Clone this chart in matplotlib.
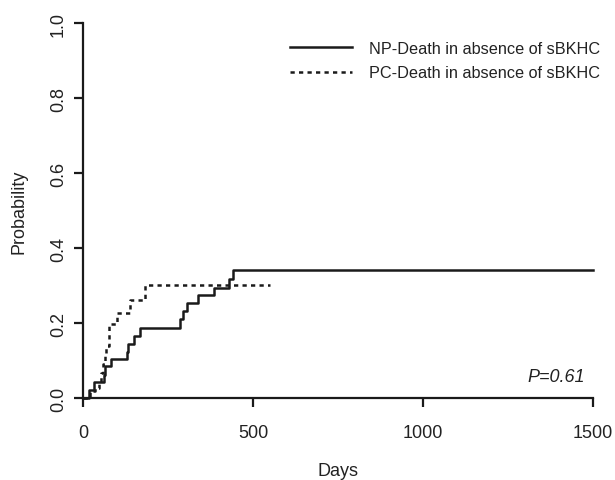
import matplotlib
matplotlib.use("Agg")
import matplotlib.pyplot as plt

# cumulative incidence, step curves (days, probability after event)
np_days = [0, 18, 33, 61, 64, 83, 128, 133, 149, 167, 286, 295, 305, 338, 385, 429, 441, 1500]
np_prob = [0, 0.021, 0.042, 0.063, 0.085, 0.104, 0.124, 0.145, 0.165, 0.188,
           0.210, 0.232, 0.253, 0.274, 0.295, 0.318, 0.341, 0.341]

pc_days = [0, 20, 34, 47, 54, 59, 64, 69, 77, 100, 138, 183, 549]
pc_prob = [0, 0.018, 0.028, 0.040, 0.068, 0.091, 0.120, 0.140, 0.199, 0.228, 0.262, 0.302, 0.302]

labels = ["NP-Death in absence of sBKHC", "PC-Death in absence of sBKHC"]
x_ticks = [0, 500, 1000, 1500]
y_ticks = [0.0, 0.2, 0.4, 0.6, 0.8, 1.0]

plt.rcParams['font.family'] = ['Liberation Sans', 'DejaVu Sans']
ink = '#1a1a1a'
txt = '#222222'

fig = plt.figure(figsize=(6.15, 4.81), dpi=100)
ax = fig.add_axes([0.135, 0.170, 0.829, 0.780])

ax.plot(np_days, np_prob, drawstyle='steps-post', color=ink, lw=1.8,
        label=labels[0], clip_on=False)
ax.plot(pc_days, pc_prob, drawstyle='steps-post', color=ink, lw=1.8,
        linestyle=(0, (1.7, 1.7)), label=labels[1], clip_on=False)

ax.set_xlim(0, 1500)
ax.set_ylim(0, 1)
ax.set_xticks(x_ticks)
ax.set_yticks(y_ticks)
ax.set_yticklabels([f'{v:.1f}' for v in y_ticks], rotation=90, va='center')

for side in ['top', 'right']:
    ax.spines[side].set_visible(False)
for side in ['left', 'bottom']:
    ax.spines[side].set_linewidth(1.6)
    ax.spines[side].set_color(ink)

ax.tick_params(axis='both', length=6.5, width=1.6, color=ink,
               labelsize=13, labelcolor=txt)
ax.tick_params(axis='x', pad=12)
ax.tick_params(axis='y', pad=5)

ax.set_xlabel('Days', fontsize=13, color=txt, labelpad=15)
ax.set_ylabel('Probability', fontsize=13, color=txt, labelpad=16)

ax.text(0.985, 0.058, 'P=0.61', transform=ax.transAxes, ha='right', va='center',
        fontsize=13, style='italic', color=txt)

ax.legend(loc='upper right', bbox_to_anchor=(1.015, 0.952), frameon=False,
          fontsize=11.7, handlelength=3.8, handletextpad=1.1, labelspacing=0.57,
          borderpad=0, borderaxespad=0, labelcolor=txt)

fig.savefig('out.png', dpi=100)
